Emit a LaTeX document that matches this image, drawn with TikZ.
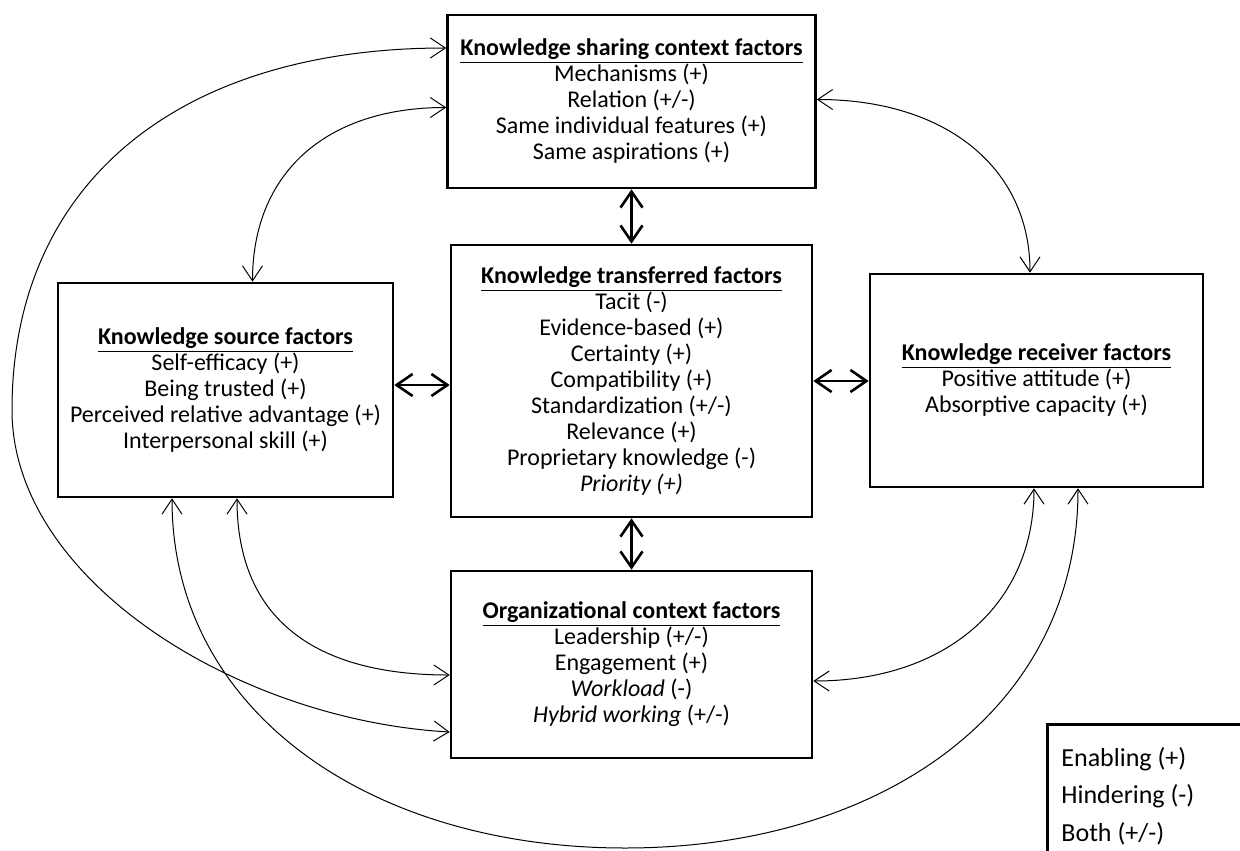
\documentclass[tikz,border=0pt]{standalone}
\usepackage{fontspec}
\setmainfont{Carlito}
\usetikzlibrary{arrows.meta}

\begin{document}
\begin{tikzpicture}
 [
  x=0.5pt, y=-0.5pt,
  >={Straight Barb[length=7.5pt,width=10pt]},
  box/.style    = {draw, line width=1.3pt, align=center, inner sep=0pt,
                   font=\fontsize{12}{13}\selectfont},
  link/.style   = {line width=0.5pt, <->},
  bilink/.style = {line width=1.3pt, {Straight Barb[length=8pt,width=11pt]}-{Straight Barb[length=8pt,width=11pt]}},
 ]
 \useasboundingbox (0,0) rectangle (1240,850);
 \clip (0,0) rectangle (1240,850);

 % the factor boxes
 \node (sharing) at (631.5,101.5) [box, minimum width=184pt, minimum height=86.5pt]
  {\underline{\textbf{Knowledge sharing context factors}}\\ Mechanisms (+)\\ Relation (+/-)\\
   Same individual features (+)\\ Same aspirations (+)};
 \node (transferred) at (631.5,381) [box, minimum width=180.5pt, minimum height=136pt]
  {\underline{\textbf{Knowledge transferred factors}}\\ Tacit (-)\\ Evidence-based (+)\\ Certainty (+)\\
   Compatibility (+)\\ Standardization (+/-)\\ Relevance (+)\\ Proprietary knowledge (-)\\ \textit{Priority (+)}};
 \node (source) at (225.5,390) [box, minimum width=167.5pt, minimum height=107pt]
  {\underline{\textbf{Knowledge source factors}}\\ Self-efficacy (+)\\ Being trusted (+)\\
   Perceived relative advantage (+)\\ Interpersonal skill (+)};
 \node (receiver) at (1036.5,380.5) [box, minimum width=166.5pt, minimum height=106.5pt]
  {\underline{\textbf{Knowledge receiver factors}}\\ Positive attitude (+)\\ Absorptive capacity (+)};
 \node (org) at (631.5,664.5) [box, minimum width=180.5pt, minimum height=93.5pt]
  {\underline{\textbf{Organizational context factors}}\\ Leadership (+/-)\\ Engagement (+)\\
   \textit{Workload} (-)\\ \textit{Hybrid working} (+/-)};

 % the legend
 \node (legend) at (1046,723) [box, anchor=north west, minimum width=300pt, minimum height=200pt]{};
 \node (legendtext) at (1061,796) [anchor=west, align=left, inner sep=0pt,
  font=\fontsize{13}{18.75}\selectfont] {Enabling (+)\\ Hindering (-)\\ Both (+/-)};

 % straight links
 \draw[bilink] (sharing.south) -- (transferred.north);
 \draw[bilink] (transferred.south) -- (org.north);
 \draw[bilink] ([yshift=2.5pt]source.east) -- ([yshift=-2pt]transferred.west);
 \draw[bilink] (transferred.east) -- (transferred.east -| receiver.west);

 % curved links
 \draw[link] ([yshift=26.75pt]sharing.west) .. controls +(-270,0) and +(0,-225) .. (12,410)
  .. controls +(0,170) and +(-212,-12) .. ([yshift=-33.75pt]org.west);
 \draw[link] ([xshift=-26.75pt]source.south) .. controls +(0,213) and +(-255,0) .. (625,848)
  .. controls +(255,0) and +(0,223) .. ([xshift=20.75pt]receiver.south);
 \draw[link] ([yshift=-3pt]sharing.west) .. controls +(-121,0) and +(0,-108) .. ([xshift=13.5pt]source.north);
 \draw[link] ([xshift=5.75pt]source.south) .. controls +(0,123) and +(-132,0) .. ([yshift=-5.25pt]org.west);
 \draw[link] ([yshift=1pt]sharing.east) .. controls +(129,0) and +(0,-105) .. ([xshift=-3.25pt]receiver.north);
 \draw[link] ([yshift=-8.25pt]org.east) .. controls +(133,0) and +(0,116) .. ([xshift=-1.25pt]receiver.south);
\end{tikzpicture}
\end{document}
